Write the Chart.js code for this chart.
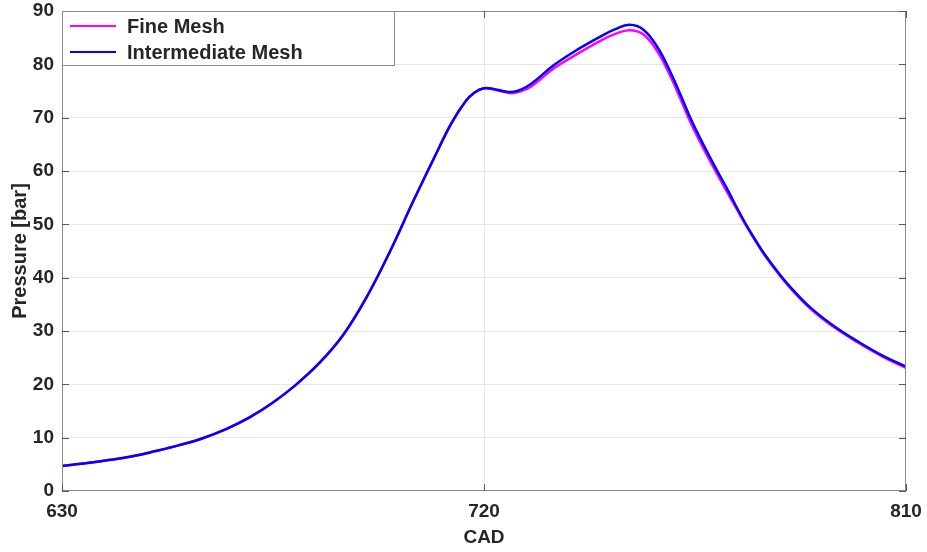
<!DOCTYPE html>
<html lang="en">
<head>
<meta charset="UTF-8">
<title>Pressure vs CAD</title>
<script src="https://cdn.jsdelivr.net/npm/chart.js"></script>
<style>
    body { margin: 0; background: #fff; }
    canvas { display: block; }
</style>
</head>
<body>
<canvas id="pressureChart" width="927" height="552"></canvas>
<script>
// crank angle (deg) and pressure (bar)
var cad = [630, 635, 640, 645, 650, 655, 660, 665, 670, 675, 680, 685, 690, 695, 700, 705, 710, 713, 716, 718,
    720, 722, 724, 726, 728, 730, 735, 740, 745, 748, 751, 754, 757, 760, 762, 764, 766, 768, 770, 772,
    774, 776, 778, 780, 783, 786, 790, 795, 800, 805, 810];
var fineMesh = [4.7, 5.2, 5.8, 6.5, 7.5, 8.6, 9.9, 11.6, 13.8, 16.6, 20.0, 24.1, 29.3, 36.4, 45.0, 54.5, 63.6, 68.9, 73.0, 74.7,
    75.5, 75.3, 74.9, 74.6, 75.0, 75.8, 79.3, 82.0, 84.5, 85.7, 86.4, 85.6, 82.4, 77.3, 73.3, 69.2, 65.6, 62.2, 59.0, 55.8,
    52.7, 49.6, 46.7, 44.0, 40.5, 37.4, 33.9, 30.5, 27.7, 25.2, 23.1];
var intermediateMesh = [4.7, 5.2, 5.8, 6.5, 7.5, 8.6, 9.9, 11.6, 13.8, 16.6, 20.0, 24.1, 29.3, 36.4, 45.0, 54.5, 63.6, 68.9, 73.0, 74.7,
    75.5, 75.4, 75.0, 74.8, 75.3, 76.3, 79.9, 82.8, 85.3, 86.6, 87.4, 86.5, 83.2, 78.1, 74.1, 70.0, 66.3, 62.9, 59.6, 56.4,
    53.0, 49.8, 46.9, 44.2, 40.7, 37.6, 34.1, 30.7, 27.9, 25.4, 23.3];
var xTicks = [630, 720, 810];
var seriesNames = ['Fine Mesh', 'Intermediate Mesh'];

var font = '"Liberation Sans", Arial, Helvetica, sans-serif';
var textColor = '#262626';

function toPoints(ys) {
    return cad.map(function (x, i) { return { x: x, y: ys[i] }; });
}

// box, inward ticks and the in-plot legend, MATLAB style
var framePlugin = {
    id: 'frame',
    afterDatasetsDraw: function (chart) {
        var ctx = chart.ctx;
        var a = chart.chartArea;
        var xs = chart.scales.x, ys = chart.scales.y;
        ctx.save();
        ctx.strokeStyle = '#8a8a8a';
        ctx.lineWidth = 1;
        ctx.strokeRect(a.left + 0.5, a.top + 0.5, a.right - a.left - 1, a.bottom - a.top - 1);
        ctx.strokeStyle = '#555';
        ctx.beginPath();
        ys.ticks.forEach(function (t) {
            var y = Math.round(ys.getPixelForValue(t.value)) + 0.5;
            ctx.moveTo(a.left, y); ctx.lineTo(a.left + 7, y);
            ctx.moveTo(a.right, y); ctx.lineTo(a.right - 7, y);
        });
        xs.ticks.forEach(function (t) {
            var x = Math.round(xs.getPixelForValue(t.value)) + 0.5;
            ctx.moveTo(x, a.bottom); ctx.lineTo(x, a.bottom - 7);
            ctx.moveTo(x, a.top); ctx.lineTo(x, a.top + 7);
        });
        ctx.stroke();

        // legend
        var bx = a.left, by = a.top, bw = 332, bh = 54;
        ctx.fillStyle = '#fff';
        ctx.fillRect(bx, by, bw, bh);
        ctx.strokeStyle = '#8a8a8a';
        ctx.strokeRect(bx + 0.5, by + 0.5, bw, bh);
        ctx.font = 'bold 20px ' + font;
        ctx.textBaseline = 'middle';
        ctx.textAlign = 'left';
        chart.data.datasets.forEach(function (ds, i) {
            var y = by + 15 + i * 26;
            ctx.strokeStyle = ds.borderColor;
            ctx.lineWidth = 2;
            ctx.beginPath();
            ctx.moveTo(bx + 8, y); ctx.lineTo(bx + 54, y);
            ctx.stroke();
            ctx.fillStyle = textColor;
            ctx.fillText(ds.label, bx + 65, y + 1);
        });
        ctx.restore();
    }
};

var ctx = document.getElementById('pressureChart').getContext('2d');
var pressureChart = new Chart(ctx, {
    type: 'line',
    data: {
        datasets: [{
            label: seriesNames[0],
            data: toPoints(fineMesh),
            borderColor: '#ff00ff',
            borderWidth: 2.5,
            order: 2
        }, {
            label: seriesNames[1],
            data: toPoints(intermediateMesh),
            borderColor: '#0000ff',
            borderWidth: 2.5,
            order: 1
        }]
    },
    options: {
        responsive: false,
        animation: false,
        layout: { padding: { left: 0, right: 21, top: 11, bottom: 0 } },
        elements: {
            point: { radius: 0 },
            line: { tension: 0.4, fill: false }
        },
        plugins: {
            legend: { display: false },
            tooltip: { enabled: false }
        },
        scales: {
            x: {
                type: 'linear',
                min: 630,
                max: 810,
                afterBuildTicks: function (s) {
                    s.ticks = xTicks.map(function (v) { return { value: v }; });
                },
                afterFit: function (s) {
                    s.height = 61;
                    s.paddingLeft = 0;
                    s.paddingRight = 0;
                },
                grid: {
                    color: function (c) { return c.tick && c.tick.value === 720 ? '#e6e6e6' : 'rgba(0,0,0,0)'; },
                    drawTicks: false
                },
                border: { display: false },
                ticks: {
                    padding: 9,
                    color: textColor,
                    font: { family: font, size: 19, weight: 'bold' },
                    maxRotation: 0
                },
                title: {
                    display: true,
                    text: 'CAD',
                    color: textColor,
                    font: { family: font, size: 19, weight: 'bold' },
                    padding: { top: 0, bottom: 3 }
                }
            },
            y: {
                min: 0,
                max: 90,
                afterFit: function (s) {
                    s.width = 62;
                    s.paddingTop = 0;
                    s.paddingBottom = 0;
                },
                grid: {
                    color: function (c) {
                        var v = c.tick ? c.tick.value : 0;
                        return (v === 0 || v === 90) ? 'rgba(0,0,0,0)' : '#e6e6e6';
                    },
                    drawTicks: false
                },
                border: { display: false },
                ticks: {
                    stepSize: 10,
                    padding: 8,
                    color: textColor,
                    font: { family: font, size: 19, weight: 'bold' }
                },
                title: {
                    display: true,
                    text: 'Pressure [bar]',
                    color: textColor,
                    font: { family: font, size: 20, weight: 'bold' },
                    padding: { top: 8, bottom: 0 }
                }
            }
        }
    },
    plugins: [framePlugin]
});
</script>
</body>
</html>
